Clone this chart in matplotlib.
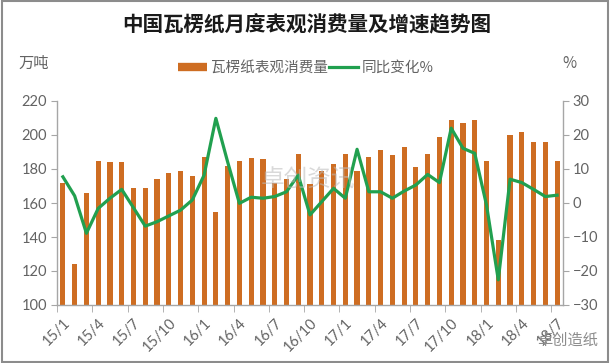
import matplotlib
matplotlib.use("Agg")
import matplotlib.pyplot as plt
from matplotlib.lines import Line2D
from matplotlib.patches import Rectangle
import numpy as np

plt.rcParams['font.family'] = ['Lato', 'Noto Sans CJK SC', 'DejaVu Sans']

months = [f"{y}/{m}" for y in (15, 16, 17, 18) for m in range(1, 13)][:43]
consumption = [172, 124, 166, 185, 184, 184, 169, 169, 174, 177.5, 179, 176,
               187, 155, 182, 185, 186.5, 186, 172, 174, 189, 171, 179, 183,
               189, 179, 187, 191, 188.5, 193, 181, 189, 199, 209, 207, 209,
               185, 138, 200, 202, 196, 196, 185]
yoy = [7.7, 2.1, -8.9, -1.6, 1.4, 4.0, -1.4, -6.8, -5.5, -3.8, -2.1, 0.9,
       8.2, 24.9, 12.1, -0.1, 1.7, 1.4, 1.9, 3.3, 8.2, -3.5, 0.4, 4.3,
       1.4, 15.8, 3.3, 3.3, 1.4, 3.5, 5.3, 8.4, 6.0, 22.0, 16.1, 14.6,
       -0.6, -22.6, 7.0, 6.0, 4.0, 1.9, 2.3]
left_ticks = [100, 120, 140, 160, 180, 200, 220]
right_ticks = [-30, -20, -10, 0, 10, 20, 30]
title = "中国瓦楞纸月度表观消费量及增速趋势图"
bar_label = "瓦楞纸表观消费量"
line_label = "同比变化%"

BAR_C = '#CE6D22'
LINE_C = '#21A04F'
TXT_C = '#636363'
AX_C = '#A6A6A6'
CJK = ['Noto Sans CJK SC', 'DejaVu Sans']

fig = plt.figure(figsize=(6.10, 3.63), dpi=100)
ax = fig.add_axes([57/610, 1-305/363, (563-57)/610, (305-101)/363])
x = np.arange(len(months))
ax.bar(x, consumption, width=0.44, color=BAR_C, zorder=2)
ax.set_xlim(-0.5, len(months)-0.5)
ax.set_ylim(100, 220)
ax.set_yticks(left_ticks)
ax2 = ax.twinx()
ax2.plot(x, yoy, color=LINE_C, lw=2.3, solid_joinstyle='round', zorder=3)
ax2.set_ylim(-30, 30)
ax2.set_yticks(right_ticks)

for a in (ax, ax2):
    a.spines['top'].set_visible(False)
    for s in ('left', 'right', 'bottom'):
        a.spines[s].set_color(AX_C)
        a.spines[s].set_linewidth(1.0)
ax.spines['right'].set_visible(False)
ax2.spines['left'].set_visible(False)
ax2.spines['bottom'].set_visible(False)

ax.tick_params(axis='y', direction='out', length=4, color=AX_C, labelsize=10.5,
               labelcolor=TXT_C, pad=3)
ax2.tick_params(axis='y', direction='out', length=4, color=AX_C, labelsize=10.5,
                labelcolor=TXT_C, pad=3)

# x: labels at category centers every 3 months, tick marks at boundaries
ax.set_xticks(x[::3])
ax.set_xticklabels(months[::3], rotation=45, ha='right', rotation_mode='anchor',
                   fontsize=10.5, color=TXT_C)
ax.tick_params(axis='x', which='major', length=0, pad=8)
ax.set_xticks(np.arange(-0.5, len(months), 3), minor=True)
ax.tick_params(axis='x', which='minor', length=5, color=AX_C, direction='out')

fig.text(307/610, 1-25/363, title, ha='center', va='center', fontsize=14.8,
         fontweight='bold', family=CJK, color='#1a1a1a')
fig.text(18/610, 1-63/363, "万吨", ha='left', va='center', fontsize=11,
         family=CJK, color=TXT_C)
fig.text(569/610, 1-63/363, "%", ha='center', va='center', fontsize=11,
         family=CJK, color=TXT_C)

handles = [Line2D([], [], color=BAR_C, lw=6, solid_capstyle='butt'),
           Line2D([], [], color=LINE_C, lw=2.3)]
leg = fig.legend(handles, [bar_label, line_label], loc='center',
                 bbox_to_anchor=(306/610, 1-68/363), ncol=2, frameon=False,
                 handlelength=2.0, handletextpad=0.25, columnspacing=0.1,
                 prop={'family': CJK, 'size': 10.5})
for t in leg.get_texts():
    t.set_color(TXT_C)

# watermarks
fig.text(308/610, 1-180/363, "卓创资讯", ha='center', va='center', fontsize=17,
         family=CJK, color='#BBBBBB', alpha=0.55, zorder=5)
fig.text(568/610, 1-340/363, "卓创造纸", ha='center', va='center', fontsize=11,
         family=CJK, color='#8C8C8C', zorder=5)

fig.add_artist(Rectangle((0.003, 0.004), 0.994, 0.992, transform=fig.transFigure,
                         fill=False, edgecolor='#8C8C8C', lw=1.5))

fig.savefig("out.png", dpi=100)
